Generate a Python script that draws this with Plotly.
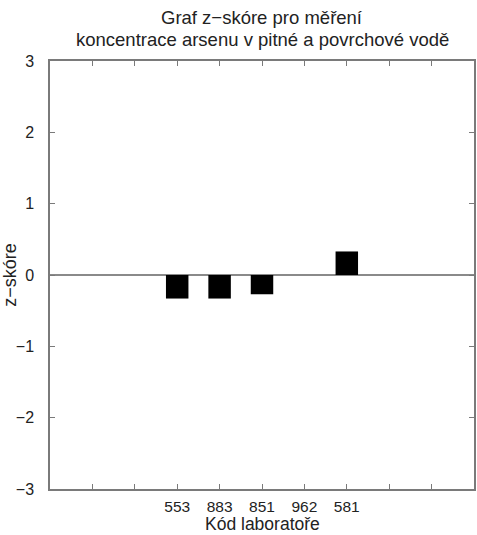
import plotly.graph_objects as go

labs = ["553", "883", "851", "962", "581"]
zscores = [-0.33, -0.33, -0.27, None, 0.33]
first_pos = 3
positions = [first_pos + i for i in range(len(labs))]
tick_positions = list(range(1, 10))
tick_text = [dict(zip(positions, labs)).get(t, "") for t in tick_positions]
y_ticks = [-3, -2, -1, 0, 1, 2, 3]
title_lines = ["Graf z\u2212skóre pro měření",
               "koncentrace arsenu v pitné a povrchové vodě"]
x_title = "Kód laboratoře"
y_title = "z\u2212skóre"

FONT = "Liberation Sans, Arial, Helvetica, sans-serif"
AX = "#7a7a7a"
W, H = 477, 535
ML, MR, MT, MB = 50, 1, 61, 46
PH = H - MT - MB

def py(pix):
    return (H - MB - pix) / PH

fig = go.Figure(go.Bar(
    x=positions, y=zscores, width=0.53,
    marker=dict(color="black", line=dict(width=0)),
))

ann = []
for line, ypix in zip(title_lines, [17.5, 39]):
    ann.append(dict(text=line, xref="paper", yref="paper", x=0.5, y=py(ypix),
                    xanchor="center", yanchor="middle", showarrow=False,
                    font=dict(family=FONT, size=18.5, color="#222")))
ann.append(dict(text=x_title, xref="paper", yref="paper", x=0.5, y=py(523.5),
                xanchor="center", yanchor="middle", showarrow=False,
                font=dict(family=FONT, size=17.5, color="#222")))

fig.update_layout(
    width=W, height=H,
    margin=dict(l=ML, r=MR, t=MT, b=MB),
    paper_bgcolor="white", plot_bgcolor="white",
    font=dict(family=FONT, size=16, color="#222"),
    showlegend=False,
    annotations=ann,
)
fig.update_xaxes(
    range=[0, 10], tickvals=tick_positions, ticktext=tick_text,
    ticks="inside", ticklen=5, tickwidth=1.2, tickcolor=AX,
    showline=True, linecolor=AX, linewidth=1.5, mirror="ticks",
    showgrid=False, zeroline=False, ticklabelstandoff=3,
    tickfont=dict(size=15.5),
)
fig.update_yaxes(
    range=[-3, 3], tickvals=y_ticks,
    ticks="inside", ticklen=5, tickwidth=1.2, tickcolor=AX,
    showline=True, linecolor=AX, linewidth=1.5, mirror="ticks",
    showgrid=False, zeroline=True, zerolinecolor="#8a8a8a", zerolinewidth=2,
    ticklabelstandoff=11, tickfont=dict(size=16),
    title=dict(text=y_title, standoff=2, font=dict(size=18)),
)

fig.write_html("out.html")
